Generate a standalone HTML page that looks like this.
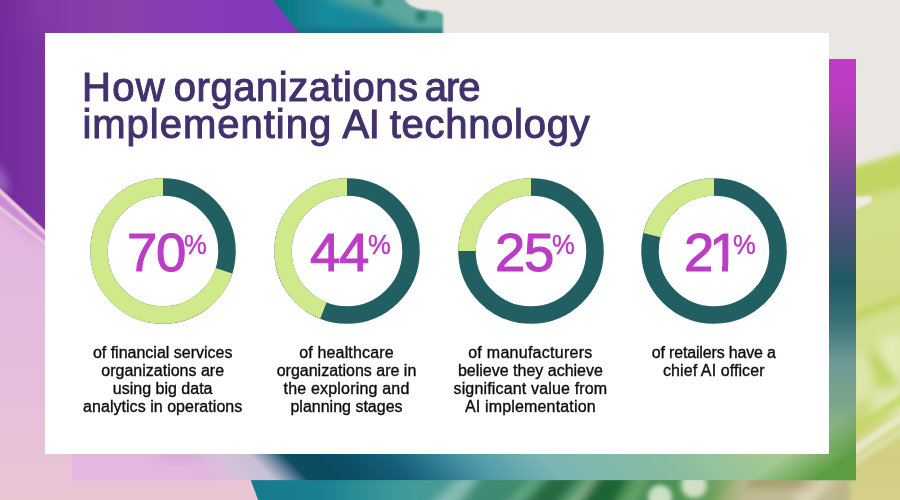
<!DOCTYPE html>
<html lang="en">
<head>
<meta charset="utf-8">
<title>How organizations are implementing AI technology</title>
<style>
  html,body{margin:0;padding:0;}
  body{width:900px;height:500px;overflow:hidden;position:relative;background:#eae7e2;font-family:"Liberation Sans",sans-serif;}
  #bg{position:absolute;left:0;top:0;width:900px;height:500px;display:block;}
  #card{position:absolute;left:45px;top:32.5px;width:784px;height:421px;background:#fff;}
  h1{position:absolute;left:82px;top:68.5px;margin:0;font-weight:400;font-size:40px;line-height:37.6px;color:#42316c;white-space:nowrap;-webkit-text-stroke:1.05px #42316c;}
  h1 span{display:block;}
  h1 i{font-style:normal;}
  h1 .l1{letter-spacing:0.05px;}
  h1 .l2{letter-spacing:0.72px;}
  .donut{position:absolute;top:178px;width:146px;height:146px;}
  .num{position:absolute;top:226px;color:#bc3dc5;font-size:54.5px;line-height:54.5px;white-space:nowrap;letter-spacing:-1.2px;-webkit-text-stroke:1.1px #bc3dc5;}
  .num sup{font-size:28.5px;line-height:0;vertical-align:baseline;position:relative;top:-17.3px;display:inline-block;transform:scaleX(0.9);transform-origin:0 50%;letter-spacing:0;-webkit-text-stroke:0.5px #bc3dc5;margin-left:1px;}
  .cover{position:absolute;background:#fff;}
  .cap{position:absolute;top:343.8px;width:200px;text-align:center;font-size:16px;line-height:18.1px;color:#0c0c0c;white-space:nowrap;-webkit-text-stroke:0.35px #0c0c0c;}
  .cap span{display:block;}
</style>
</head>
<body>
<svg id="bg" viewBox="0 0 900 500" width="900" height="500">
  <defs>
    <linearGradient id="gPurple" x1="0" y1="0" x2="300" y2="0" gradientUnits="userSpaceOnUse">
      <stop offset="0" stop-color="#742a99"/><stop offset="0.12" stop-color="#8038a6"/><stop offset="0.4" stop-color="#8841ab"/><stop offset="0.75" stop-color="#853bb8"/><stop offset="1" stop-color="#8338bc"/>
    </linearGradient>
    <linearGradient id="gPink" x1="0" y1="230" x2="0" y2="500" gradientUnits="userSpaceOnUse">
      <stop offset="0" stop-color="#e3b7e0"/><stop offset="0.6" stop-color="#e6bedb"/><stop offset="1" stop-color="#e9c6d3"/>
    </linearGradient>
    <linearGradient id="gTealTop" x1="280" y1="0" x2="440" y2="0" gradientUnits="userSpaceOnUse">
      <stop offset="0" stop-color="#0f7482"/><stop offset="0.3" stop-color="#168b9e"/><stop offset="0.7" stop-color="#1f8896"/><stop offset="1" stop-color="#3a9490"/>
    </linearGradient>
    <linearGradient id="gTealBot" x1="250" y1="0" x2="480" y2="0" gradientUnits="userSpaceOnUse">
      <stop offset="0" stop-color="#167a8c"/><stop offset="0.3" stop-color="#18808f"/><stop offset="0.65" stop-color="#3f9a9c"/><stop offset="1" stop-color="#4f9a8c"/>
    </linearGradient>
    <linearGradient id="gBotGreen" x1="465" y1="0" x2="740" y2="0" gradientUnits="userSpaceOnUse">
      <stop offset="0" stop-color="#3f8c78"/><stop offset="0.2" stop-color="#3c8a6c"/><stop offset="0.45" stop-color="#448a58"/><stop offset="0.7" stop-color="#448e50"/><stop offset="0.85" stop-color="#5a9a58"/><stop offset="1" stop-color="#98b070"/>
    </linearGradient>
    <linearGradient id="gBotBeige" x1="725" y1="0" x2="900" y2="0" gradientUnits="userSpaceOnUse">
      <stop offset="0" stop-color="#98b070"/><stop offset="0.12" stop-color="#c0ba94"/><stop offset="0.45" stop-color="#c4bc98"/><stop offset="0.7" stop-color="#bdb68a"/><stop offset="0.8" stop-color="#c4c07e"/><stop offset="1" stop-color="#ccc878"/>
    </linearGradient>
    <linearGradient id="gLime" x1="0" y1="150" x2="0" y2="500" gradientUnits="userSpaceOnUse">
      <stop offset="0" stop-color="#cbda78"/><stop offset="0.3" stop-color="#d2dc86"/><stop offset="0.75" stop-color="#cfd87e"/><stop offset="0.88" stop-color="#d1ce82"/><stop offset="1" stop-color="#d4d08a"/>
    </linearGradient>
    <linearGradient id="gFrameB" x1="-376" y1="0" x2="408" y2="0" gradientUnits="userSpaceOnUse" gradientTransform="skewX(43.8)">
      <stop offset="0" stop-color="#e4b8e0"/><stop offset="0.16" stop-color="#e2b6de"/><stop offset="0.21" stop-color="#d2c2d9"/><stop offset="0.242" stop-color="#c8c0d4"/><stop offset="0.262" stop-color="#7e93ab"/><stop offset="0.286" stop-color="#0f4c63"/><stop offset="0.31" stop-color="#0a4a60"/><stop offset="0.35" stop-color="#0b4d65"/><stop offset="0.42" stop-color="#15607a"/><stop offset="0.47" stop-color="#2f7c92"/><stop offset="0.52" stop-color="#4f9aa8"/><stop offset="0.61" stop-color="#7bb5b4"/><stop offset="0.74" stop-color="#85bba5"/><stop offset="0.83" stop-color="#96c49a"/><stop offset="0.9" stop-color="#a4c892"/><stop offset="1" stop-color="#a4c892"/>
    </linearGradient>
    <linearGradient id="gFrameR" x1="0" y1="59" x2="0" y2="480" gradientUnits="userSpaceOnUse">
      <stop offset="0" stop-color="#c03cc4"/><stop offset="0.09" stop-color="#bb3cc0"/><stop offset="0.19" stop-color="#9a42a8"/><stop offset="0.30" stop-color="#6e4a94"/><stop offset="0.41" stop-color="#4a5078"/><stop offset="0.53" stop-color="#1f5a62"/><stop offset="0.62" stop-color="#3a7078"/><stop offset="0.72" stop-color="#6c9a96"/><stop offset="0.81" stop-color="#7aa48a"/><stop offset="0.88" stop-color="#8cb484"/><stop offset="1" stop-color="#9cc08c"/>
    </linearGradient>
    <linearGradient id="gCorner" x1="773.2" y1="464.4" x2="793.7" y2="494" gradientUnits="userSpaceOnUse">
      <stop offset="0" stop-color="#5c9e44" stop-opacity="0"/><stop offset="1" stop-color="#5c9e44" stop-opacity="1"/>
    </linearGradient>
    <clipPath id="tealClip"><polygon points="240,-2 403,-2 409,5 419,9.5 438,11.5 443,14.5 443,40 240,40"/></clipPath>
    <clipPath id="frameClip"><path d="M72 453.5H829V59H856V480.3H72Z"/></clipPath>
    <filter id="b1" x="-20%" y="-20%" width="140%" height="140%"><feGaussianBlur stdDeviation="1"/></filter>
    <filter id="b2" x="-20%" y="-20%" width="140%" height="140%"><feGaussianBlur stdDeviation="2.5"/></filter>
    <filter id="b4" x="-30%" y="-30%" width="160%" height="160%"><feGaussianBlur stdDeviation="5"/></filter>
    <filter id="b6" x="-40%" y="-40%" width="180%" height="180%"><feGaussianBlur stdDeviation="7"/></filter>
    <filter id="b8" x="-30%" y="-30%" width="160%" height="160%"><feGaussianBlur stdDeviation="9"/></filter>
  </defs>
  <rect width="900" height="500" fill="#eae7e2"/>
  <!-- teal top -->
  <g filter="url(#b1)">
    <polygon points="240,-2 403,-2 409,5 419,9.5 438,11.5 443,14.5 443,40 240,40" fill="url(#gTealTop)"/>
    <g clip-path="url(#tealClip)">
      <polygon points="318,-6 460,-6 460,38 424,36 400,24 368,10 340,3" fill="#5aa79c" filter="url(#b4)"/>
      <ellipse cx="378" cy="2" rx="5" ry="5" fill="#2a7a70" filter="url(#b2)"/>
      <ellipse cx="421" cy="16" rx="5" ry="6" fill="#2a7a70" filter="url(#b2)"/>
      <rect x="290" y="28" width="160" height="8" fill="#17667a" opacity="0.7" filter="url(#b2)"/>
    </g>
  </g>
  <!-- pink lower-left -->
  <polygon points="0,180 60,240 240,440 262,510 0,510" fill="url(#gPink)"/>
  <!-- purple upper-left -->
  <polygon points="0,0 273,0 320,60 320,300 60,245 0,188" fill="url(#gPurple)"/>
  <polygon points="-10,30 50,40 50,240 -10,190" fill="#742b9d" opacity="0.55" filter="url(#b8)"/>
  <polygon points="-6,160 6,178 8,196 -6,186" fill="#a67ac6" opacity="0.85" filter="url(#b4)"/>
  <!-- glass edge stripes -->
  <polygon points="-2,205 60,254 60,244 -2,187" fill="#cf8cd6"/>
  <polygon points="-2,187.6 60,245.2 60,248.6 -2,191.4" fill="#eee2da" filter="url(#b1)"/>
  <polygon points="-2,204.5 60,253 60,256 -2,208" fill="#ead6dc" filter="url(#b1)"/>
  <!-- bottom teal / green -->
  <polygon points="250,478 500,478 500,505 260,505" fill="url(#gTealBot)"/>
  <polygon points="442,512 482,470 745,470 745,512" fill="url(#gBotGreen)" filter="url(#b2)"/>
  <polygon points="712,512 740,470 910,470 910,512" fill="url(#gBotBeige)" filter="url(#b4)"/>
  <g filter="url(#b4)">
    <polygon points="425,510 462,474 482,474 455,510" fill="#86bab4"/>
    <polygon points="500,510 535,474 545,474 515,510" fill="#6aa886"/>
    <polygon points="520,510 555,474 580,474 550,510" fill="#28683f"/>
    <polygon points="560,510 592,474 602,474 575,510" fill="#86b48c"/>
    <polygon points="575,510 600,474 630,474 610,510" fill="#1c6434"/>
    <polygon points="618,510 640,474 650,474 632,510" fill="#6aa46c"/>
  </g>
  <g filter="url(#b2)">
    <circle cx="660" cy="497" r="12" fill="#cde0c6"/>
    <circle cx="694" cy="485" r="13" fill="#d2dfc4"/>
  </g>
  <g filter="url(#b4)">
    <polygon points="750,476 810,476 800,488 745,488" fill="#a49c6c"/>
    <polygon points="790,510 826,474 838,474 806,510" fill="#ddd6b8"/>
    <circle cx="800" cy="497" r="5" fill="#e0d8c0"/>
  </g>
  <!-- right lime region -->
  <g filter="url(#b2)">
    <polygon points="850,168 905,151 905,510 850,510" fill="url(#gLime)"/>
  </g>
  <g filter="url(#b2)">
    <polygon points="850,171 905,155 905,186 850,197" fill="#c1d564"/>
    <polygon points="850,206 905,189 905,232 850,247" fill="#d3de8a"/>
    <polygon points="850,314 905,293 905,303 850,324" fill="#c3d466"/>
  </g>
  <g filter="url(#b4)">
    <polygon points="850,325 905,306 905,335 850,352" fill="#d3e192"/>
    <polygon points="879,338 905,334 905,384 886,376 879,356" fill="#e3ebb6"/>
    <polygon points="850,352 868,352 874,392 850,408" fill="#dde7aa"/>
    <polygon points="866,356 878,352 905,392 905,404 890,398" fill="#bdd662"/>
    <polygon points="872,392 905,384 905,412 872,416" fill="#e0e8b2"/>
  </g>
  <g filter="url(#b2)">
    <polygon points="850,428 905,392 905,402 850,438" fill="#c2da6a"/>
    <polygon points="850,448 905,410 905,420 850,458" fill="#e8eccc"/>
    <polygon points="850,462 905,426 905,432 850,468" fill="#dfe4b4"/>
  </g>
  <polygon points="852,197 871,196 872,202 853,211" fill="#efebe2" filter="url(#b1)"/>
  <!-- offset gradient frame -->
  <g clip-path="url(#frameClip)">
    <rect x="72" y="453" width="784" height="27.5" fill="url(#gFrameB)"/>
    <ellipse cx="180" cy="456" rx="22" ry="6" fill="#d6a9d6" opacity="0.7" filter="url(#b4)"/>
    <rect x="829" y="59" width="27" height="394" fill="url(#gFrameR)"/>
    <rect x="700" y="400" width="160" height="85" fill="url(#gCorner)"/>
  </g>
</svg>
<div id="card"></div>
<h1><span class="l1"><i style="letter-spacing:1.3px">How</i> <i style="letter-spacing:0.53px;margin-left:-3.3px">organizations</i> <i style="letter-spacing:-1px;margin-left:-5px">are</i></span> <span class="l2"><i style="letter-spacing:0.99px;margin-left:0.4px">implementing</i> <i style="letter-spacing:-0.3px;margin-left:-1.6px">AI</i> <i style="letter-spacing:0.72px;margin-left:-1.8px">technology</i></span></h1>

<svg class="donut" style="left:90px" viewBox="-73 -73 146 146"><circle r="64" fill="none" stroke="#225f62" stroke-width="17.5"/><circle r="64" fill="none" stroke="#d0e98b" stroke-width="17.5" pathLength="100" stroke-dasharray="70 30" transform="rotate(-90) scale(1,-1)"/></svg>
<svg class="donut" style="left:273.8px" viewBox="-73 -73 146 146"><circle r="64" fill="none" stroke="#225f62" stroke-width="17.5"/><circle r="64" fill="none" stroke="#d0e98b" stroke-width="17.5" pathLength="100" stroke-dasharray="44 56" transform="rotate(-90) scale(1,-1)"/></svg>
<svg class="donut" style="left:457.5px" viewBox="-73 -73 146 146"><circle r="64" fill="none" stroke="#225f62" stroke-width="17.5"/><circle r="64" fill="none" stroke="#d0e98b" stroke-width="17.5" pathLength="100" stroke-dasharray="25 75" transform="rotate(-90) scale(1,-1)"/></svg>
<svg class="donut" style="left:641.2px" viewBox="-73 -73 146 146"><circle r="64" fill="none" stroke="#225f62" stroke-width="17.5"/><circle r="64" fill="none" stroke="#d0e98b" stroke-width="17.5" pathLength="100" stroke-dasharray="21 79" transform="rotate(-90) scale(1,-1)"/></svg>

<div class="num" style="left:127px">70<sup style="margin-left:-1.7px">%</sup></div>
<div class="num" style="left:310px">44<sup style="margin-left:-0.2px">%</sup></div>
<div class="num" style="left:495px">25<sup style="margin-left:-1.2px">%</sup></div>
<div class="num" style="left:684px">2<span style="margin-left:-4px">1</span><sup style="margin-left:-5.4px">%</sup></div>
<div class="cover" style="left:711px;top:265.2px;width:11px;height:8px"></div><div class="cover" style="left:728.2px;top:265.2px;width:11px;height:8px"></div>

<div class="cap" style="left:62.7px"><span style="letter-spacing:0px">of financial services</span> <span style="letter-spacing:0px">organizations are</span> <span style="letter-spacing:0px">using big data</span> <span style="letter-spacing:0.04px">analytics in operations</span></div>
<div class="cap" style="left:246.5px"><span style="letter-spacing:0.17px">of healthcare</span> <span style="letter-spacing:0px">organizations are in</span> <span style="letter-spacing:0.19px">the exploring and</span> <span style="letter-spacing:0px">planning stages</span></div>
<div class="cap" style="left:430.4px"><span style="letter-spacing:0.27px">of manufacturers</span> <span style="letter-spacing:0px">believe they achieve</span> <span style="letter-spacing:0.16px">significant value from</span> <span style="letter-spacing:0.16px">AI implementation</span></div>
<div class="cap" style="left:613.8px"><span style="letter-spacing:-0.17px">of retailers have a</span> <span style="letter-spacing:0.09px">chief AI officer</span></div>
</body>
</html>
